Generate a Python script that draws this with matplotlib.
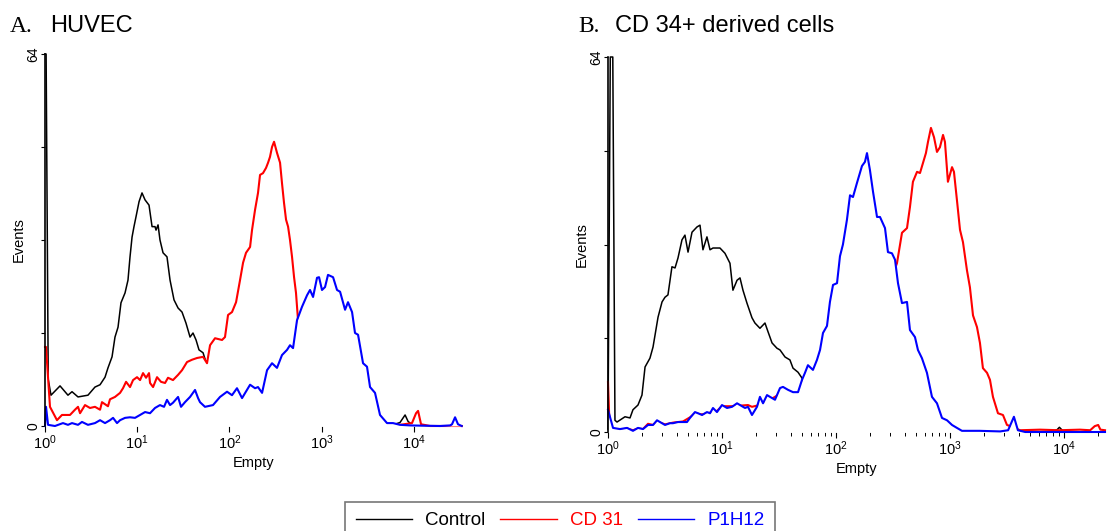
"""Flow cytometry histograms: HUVEC vs CD34+ derived cells."""

import matplotlib

matplotlib.use("Agg")

import matplotlib.pyplot as plt
import numpy as np
from matplotlib.lines import Line2D
from matplotlib.ticker import FixedLocator, NullLocator

plt.rcParams["font.family"] = ["Liberation Sans", "DejaVu Sans"]
plt.rcParams["mathtext.fontset"] = "custom"
plt.rcParams["mathtext.rm"] = "Liberation Sans"
plt.rcParams["mathtext.it"] = "Liberation Sans"

# ---- panel A: HUVEC (x = log10 channel, y = events) ----
a_ctrl_log = [0.0, 0.012, 0.035, 0.065, 0.163, 0.249, 0.293, 0.358, 0.466, 0.542, 0.597,
              0.651, 0.683, 0.727, 0.759, 0.792, 0.824, 0.868, 0.900, 0.922, 0.944, 0.965,
              0.987, 1.020, 1.052, 1.085, 1.128, 1.161, 1.193, 1.204, 1.226, 1.247, 1.280,
              1.323, 1.356, 1.399, 1.443, 1.486, 1.529, 1.573, 1.605, 1.638, 1.670, 1.714,
              1.746, 1.790, 1.844, 1.931, 2.028, 2.224, 2.549, 3.004, 3.774, 3.850, 3.905,
              3.937, 3.980, 4.176, 4.519]
a_ctrl_ev = [64, 64, 8.0, 5.3, 6.9, 5.3, 5.9, 5.0, 5.3, 6.7, 7.1,
             8.4, 10.0, 11.9, 15.3, 17.0, 21.2, 22.9, 25.1, 29.1, 32.5, 34.3,
             36.0, 38.6, 40.1, 38.9, 38.0, 34.3, 34.3, 33.7, 34.6, 32.0, 29.8,
             29.1, 25.1, 21.7, 20.3, 19.6, 17.7, 15.3, 16.0, 14.8, 13.1, 12.6,
             11.0, 9.0, 6.0, 3.5, 2.0, 1.0, 0.5, 0.2, 0.2, 0.6, 1.9,
             0.8, 0.2, 0.0, 0.0]

a_cd31_log = [0.0, 0.011, 0.054, 0.130, 0.184, 0.271, 0.325, 0.358, 0.380, 0.434, 0.488,
              0.542, 0.597, 0.618, 0.683, 0.705, 0.759, 0.814, 0.846, 0.879, 0.922, 0.955,
              0.998, 1.031, 1.063, 1.096, 1.128, 1.139, 1.172, 1.215, 1.258, 1.302, 1.334,
              1.388, 1.443, 1.486, 1.540, 1.594, 1.649, 1.714, 1.757, 1.790, 1.844, 1.920,
              1.952, 1.985, 2.028, 2.072, 2.115, 2.148, 2.180, 2.224, 2.245, 2.278, 2.310,
              2.332, 2.364, 2.397, 2.419, 2.440, 2.462, 2.484, 2.516, 2.549, 2.570, 2.592,
              2.614, 2.636, 2.657, 2.679, 2.701, 2.722, 2.744, 2.820, 2.928, 3.091, 3.416,
              3.850, 3.980, 4.024, 4.046, 4.078, 4.176, 4.519]
a_cd31_ev = [13.6, 13.6, 3.3, 1.0, 1.9, 1.9, 2.8, 3.3, 2.2, 3.6, 3.1,
             3.3, 2.8, 4.1, 3.4, 4.6, 5.0, 5.7, 6.5, 7.6, 6.7, 7.9,
             8.4, 7.9, 9.1, 8.3, 9.1, 7.4, 6.7, 8.4, 7.6, 7.4, 8.3,
             7.9, 8.8, 9.6, 11.0, 11.4, 11.7, 11.9, 10.8, 13.9, 15.1, 14.8,
             15.3, 19.1, 19.6, 21.3, 25.1, 28.1, 29.8, 30.8, 33.7, 37.2, 40.1,
             43.2, 43.5, 44.4, 45.3, 46.3, 48.0, 48.9, 47.0, 45.3, 41.8, 38.4,
             35.5, 34.3, 32.0, 29.1, 25.6, 22.9, 18.2, 8.0, 3.0, 1.0, 0.3,
             0.2, 0.5, 2.2, 2.6, 0.3, 0.0, 0.0]

a_p1h12_log = [0.0, 0.011, 0.033, 0.108, 0.195, 0.249, 0.293, 0.358, 0.401, 0.466, 0.542,
               0.597, 0.651, 0.705, 0.738, 0.781, 0.814, 0.868, 0.922, 0.976, 1.031, 1.085,
               1.139, 1.193, 1.247, 1.291, 1.323, 1.356, 1.388, 1.443, 1.475, 1.518, 1.573,
               1.627, 1.660, 1.681, 1.735, 1.822, 1.898, 1.974, 2.028, 2.082, 2.137, 2.224,
               2.278, 2.310, 2.354, 2.408, 2.462, 2.516, 2.570, 2.625, 2.657, 2.690, 2.733,
               2.787, 2.842, 2.874, 2.907, 2.950, 2.972, 3.004, 3.037, 3.069, 3.124, 3.167,
               3.200, 3.254, 3.286, 3.330, 3.362, 3.395, 3.449, 3.492, 3.525, 3.579, 3.633,
               3.709, 3.774, 3.850, 3.959, 4.284, 4.393, 4.414, 4.447, 4.479, 4.519]
a_p1h12_ev = [0.0, 3.3, 0.2, 0.0, 0.5, 0.2, 0.5, 0.2, 0.7, 0.2, 0.5,
              1.0, 0.5, 1.0, 1.4, 0.5, 1.0, 1.4, 1.5, 1.4, 1.9, 2.4,
              2.2, 3.1, 3.6, 3.3, 4.5, 3.6, 4.0, 5.0, 3.3, 4.1, 5.0,
              6.2, 4.8, 4.1, 3.3, 3.6, 5.0, 5.9, 5.3, 6.5, 4.8, 7.1,
              6.5, 6.7, 5.7, 9.6, 10.8, 10.0, 12.2, 13.1, 13.9, 13.4, 18.2,
              20.5, 22.5, 23.4, 22.2, 25.5, 25.6, 23.4, 23.9, 26.0, 25.6, 23.4,
              23.1, 20.0, 21.3, 19.6, 16.0, 15.7, 10.8, 10.2, 6.7, 5.7, 1.9,
              0.5, 0.5, 0.2, 0.1, 0.0, 0.1, 0.3, 1.5, 0.3, 0.0]

# ---- panel B: CD 34+ derived cells ----
b_ctrl_log = [0.0, 0.020, 0.042, 0.061, 0.079, 0.149, 0.193, 0.219, 0.263, 0.298, 0.325,
              0.368, 0.395, 0.439, 0.474, 0.500, 0.526, 0.561, 0.588, 0.614, 0.649, 0.675,
              0.702, 0.737, 0.781, 0.807, 0.833, 0.868, 0.895, 0.921, 0.982, 1.026, 1.070,
              1.096, 1.132, 1.158, 1.184, 1.219, 1.263, 1.289, 1.333, 1.377, 1.404, 1.439,
              1.482, 1.509, 1.553, 1.596, 1.623, 1.667, 1.702, 1.750, 1.800, 1.900, 2.100,
              2.500, 3.200, 3.900, 3.940, 3.960, 3.990, 4.100, 4.360]
b_ctrl_ev = [0.5, 64, 64, 2.0, 1.7, 2.6, 2.4, 3.8, 4.6, 6.3, 11.1,
             12.6, 14.5, 19.6, 22.2, 23.0, 23.4, 28.2, 28.0, 29.7, 32.8, 33.6,
             30.7, 34.1, 35.0, 35.3, 31.1, 33.3, 31.1, 31.4, 31.4, 30.5, 28.8,
             24.2, 25.9, 26.3, 24.2, 22.0, 19.5, 18.6, 17.7, 18.6, 17.1, 15.2,
             14.3, 14.0, 12.8, 12.3, 10.9, 10.2, 9.2, 6.0, 4.0, 2.0, 0.8,
             0.3, 0.2, 0.1, 0.4, 0.8, 0.2, 0.0, 0.0]

b_cd31_log = [0.0, 0.010, 0.030, 0.105, 0.167, 0.219, 0.263, 0.307, 0.351, 0.395, 0.430,
              0.500, 0.570, 0.658, 0.719, 0.763, 0.825, 0.895, 0.956, 1.000, 1.088, 1.158,
              1.228, 1.263, 1.307, 1.360, 1.421, 1.509, 1.579, 1.667, 1.754, 1.833, 1.921,
              2.009, 2.096, 2.184, 2.272, 2.360, 2.430, 2.491, 2.535, 2.579, 2.623, 2.649,
              2.675, 2.711, 2.737, 2.763, 2.789, 2.807, 2.833, 2.860, 2.886, 2.912, 2.939,
              2.956, 2.982, 3.018, 3.035, 3.061, 3.088, 3.114, 3.149, 3.175, 3.202, 3.237,
              3.263, 3.289, 3.325, 3.351, 3.377, 3.421, 3.465, 3.500, 3.544, 3.614, 3.790,
              3.960, 4.140, 4.230, 4.270, 4.300, 4.320, 4.360]
b_cd31_ev = [8.5, 3.0, 0.6, 0.4, 0.6, 0.3, 0.6, 0.5, 1.4, 1.2, 1.8,
             1.3, 1.6, 1.8, 2.5, 3.2, 3.0, 3.3, 3.6, 4.4, 4.4, 4.5,
             4.6, 4.3, 4.5, 5.0, 5.5, 6.5, 6.5, 6.3, 8.0, 9.5, 11.0,
             12.5, 14.5, 16.5, 19.0, 21.5, 24.0, 26.5, 28.8, 34.0, 34.8, 38.4,
             42.7, 44.4, 44.2, 45.9, 47.6, 49.5, 51.9, 50.3, 47.8, 48.6, 50.7,
             49.5, 42.7, 45.2, 44.4, 39.6, 34.5, 32.4, 27.6, 24.7, 19.9, 17.9,
             15.2, 10.9, 10.1, 8.9, 6.0, 3.2, 2.9, 1.2, 0.9, 0.3, 0.4,
             0.3, 0.4, 0.3, 1.0, 1.2, 0.4, 0.3]

b_p1h12_log = [0.0, 0.044, 0.105, 0.167, 0.219, 0.263, 0.307, 0.351, 0.395, 0.430, 0.456,
               0.500, 0.544, 0.570, 0.614, 0.658, 0.693, 0.719, 0.763, 0.789, 0.825, 0.868,
               0.895, 0.921, 0.956, 1.000, 1.044, 1.088, 1.132, 1.158, 1.202, 1.228, 1.263,
               1.307, 1.333, 1.360, 1.395, 1.421, 1.465, 1.509, 1.535, 1.579, 1.623, 1.667,
               1.702, 1.728, 1.754, 1.798, 1.833, 1.860, 1.886, 1.921, 1.947, 1.974, 2.009,
               2.035, 2.061, 2.096, 2.123, 2.149, 2.184, 2.228, 2.254, 2.272, 2.298, 2.325,
               2.360, 2.386, 2.430, 2.456, 2.491, 2.518, 2.544, 2.579, 2.623, 2.649, 2.693,
               2.719, 2.754, 2.798, 2.842, 2.886, 2.930, 2.974, 3.018, 3.061, 3.105, 3.260,
               3.440, 3.510, 3.561, 3.596, 3.660, 4.360]
b_p1h12_ev = [3.8, 0.7, 0.5, 0.7, 0.2, 0.7, 0.5, 1.2, 1.2, 2.0, 1.7,
              1.2, 1.5, 1.5, 1.7, 1.7, 1.7, 2.4, 3.4, 3.2, 2.9, 3.4,
              3.2, 4.1, 3.4, 4.6, 4.1, 4.3, 4.9, 4.6, 4.1, 4.3, 2.9,
              4.3, 6.0, 4.9, 6.3, 6.0, 5.5, 7.5, 7.7, 7.2, 6.8, 6.8,
              8.9, 10.1, 11.4, 10.6, 12.3, 14.0, 16.9, 18.1, 22.2, 25.1, 25.4,
              30.0, 32.0, 36.2, 40.4, 40.1, 42.5, 45.4, 46.1, 47.6, 44.7, 41.0,
              36.7, 36.7, 34.8, 30.7, 30.5, 29.4, 25.4, 22.0, 22.2, 17.4, 16.2,
              14.0, 12.6, 10.1, 6.0, 4.9, 2.4, 2.0, 1.2, 0.7, 0.2, 0.2,
              0.1, 0.3, 2.6, 0.3, 0.0, 0.0]

series_names = ["Control", "CD 31", "P1H12"]
series_colors = ["black", "#ff0000", "#0000ff"]
decade_labels = ["$10^{0}$", "$10^{1}$", "$10^{2}$", "$10^{3}$", "$10^{4}$"]


def style_axes(ax, xmax_log, minor_x):
    """Give an axes the look of a CellQuest histogram."""
    ax.set_xscale("log")
    ax.set_xlim(1, 10 ** xmax_log)
    ax.set_ylim(0, 64)
    ax.spines[["top", "right", "bottom"]].set_visible(False)
    ax.spines["left"].set_linewidth(1.2)
    ax.spines["left"].set_zorder(5)

    ax.yaxis.set_major_locator(FixedLocator([0, 64]))
    ax.yaxis.set_minor_locator(FixedLocator([16, 32, 48]))
    ax.set_yticklabels(["0", "64"], rotation=90, va="center")
    ax.tick_params(axis="y", which="both", length=3, width=0.8, labelsize=10, pad=0.5)

    ax.xaxis.set_major_locator(FixedLocator([1, 10, 100, 1000, 10000]))
    ax.set_xticklabels(decade_labels)
    if minor_x:
        subs = [m * 10 ** d for d in range(5) for m in range(2, 10)]
        ax.xaxis.set_minor_locator(FixedLocator([s for s in subs if s < 10 ** xmax_log]))
        ax.tick_params(axis="x", which="minor", length=3, width=0.7)
    else:
        ax.xaxis.set_minor_locator(NullLocator())
    ax.tick_params(axis="x", which="major", length=4, width=0.8, labelsize=10.5, pad=1)

    ax.set_ylabel("Events", fontsize=10.5, labelpad=0.5)
    ax.set_xlabel("Empty", fontsize=10.5, labelpad=3)


def draw_panel(ax, curves):
    """Overlay the histograms; each later one hides what lies under it."""
    widths = [1.1, 1.5, 1.5]
    for i, ((xs, ys), color, lw) in enumerate(zip(curves, series_colors, widths)):
        x = 10 ** np.asarray(xs)
        ax.fill_between(x, 0, ys, color="white", linewidth=0, zorder=3 + i * 0.2)
        ax.plot(x, ys, color=color, linewidth=lw, clip_on=False, zorder=3.1 + i * 0.2)


fig = plt.figure(figsize=(11.07, 5.31), dpi=100)
ax_a = fig.add_axes([45 / 1107, 1 - 426 / 531, 416.7 / 1107, 372 / 531])
ax_b = fig.add_axes([608 / 1107, 1 - 432 / 531, 497 / 1107, 375 / 531])

draw_panel(ax_a, [(a_ctrl_log, a_ctrl_ev), (a_cd31_log, a_cd31_ev), (a_p1h12_log, a_p1h12_ev)])
draw_panel(ax_b, [(b_ctrl_log, b_ctrl_ev), (b_cd31_log, b_cd31_ev), (b_p1h12_log, b_p1h12_ev)])
style_axes(ax_a, 4.519, minor_x=False)
style_axes(ax_b, 4.36, minor_x=True)

title_y = 1 - 32.5 / 531
fig.text(10 / 1107, title_y, "A.", family="Liberation Serif", fontsize=17, va="baseline")
fig.text(50 / 1107, title_y, "HUVEC", fontsize=17, va="baseline")
fig.text(578 / 1107, title_y, "B.", family="Liberation Serif", fontsize=17, va="baseline")
fig.text(615 / 1107, title_y, "CD 34+ derived cells", fontsize=17, va="baseline")

handles = [Line2D([], [], color=c, linewidth=1.0) for c in series_colors]
leg = fig.legend(
    handles,
    series_names,
    loc="upper center",
    bbox_to_anchor=(560 / 1107, 1 - 502 / 531),
    ncol=3,
    fontsize=13.5,
    frameon=True,
    fancybox=False,
    edgecolor="#555555",
    handlelength=3.0,
    handletextpad=0.7,
    columnspacing=0.8,
    borderpad=0.55,
    borderaxespad=0,
)
leg.get_frame().set_linewidth(1.2)
for text, color in zip(leg.get_texts(), series_colors):
    text.set_color(color)

fig.savefig("out.png", dpi=100)
plt.close(fig)
